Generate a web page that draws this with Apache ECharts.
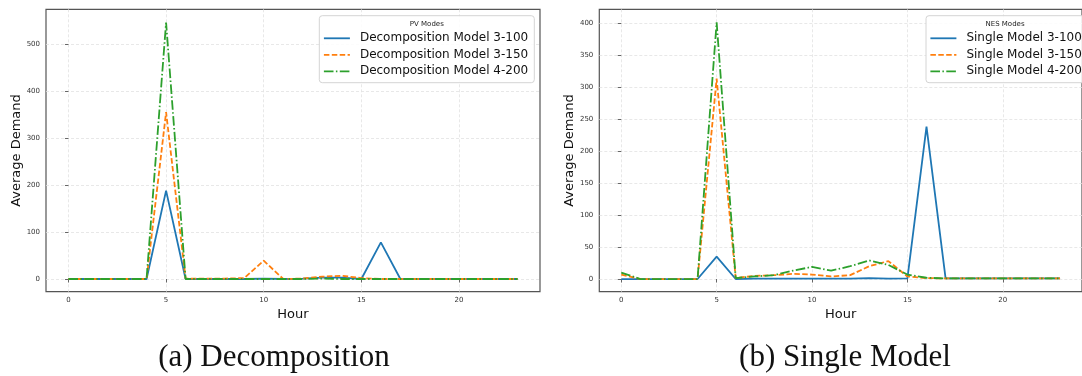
<!DOCTYPE html>
<html><head><meta charset="utf-8">
<script src="https://cdn.jsdelivr.net/npm/echarts@6/dist/echarts.min.js"></script>
<style>html,body{margin:0;padding:0;background:#fff}#c{width:1082px;height:376px}</style>
</head><body><div id="c"></div>
<script>
// ---- data ----
const hours = [0,1,2,3,4,5,6,7,8,9,10,11,12,13,14,15,16,17,18,19,20,21,22,23];
const xTickValues = [0,5,10,15,20];
const leftYTicks = [0,100,200,300,400,500];
const rightYTicks = [0,50,100,150,200,250,300,350,400];

const pvTitle = 'PV Modes';
const pvNames = ['Decomposition Model 3-100','Decomposition Model 3-150','Decomposition Model 4-200'];
const pv3_100 = [0,0,0,0,0,188,0,0,0,0,1,0,1,3,3,0,78,0,0,0,0,0,0,0];
const pv3_150 = [0,0,0,0,0,355,1,1,1,2,39,0,1,5,7,2,0,0,0,0,0,0,0,0];
const pv4_200 = [0,0,0,0,0,546,0,0,0,0,0,0,0,1,0,0,0,0,0,0,0,0,0,0];

const nesTitle = 'NES Modes';
const nesNames = ['Single Model 3-100','Single Model 3-150','Single Model 4-200'];
const nes3_100 = [0,0,0,0,0,35,0,0.5,0.5,0.5,0.5,0.5,0.5,1.5,0.5,1,238,1,1,1,1,1,1,1];
const nes3_150 = [7,0,0,0,0,313,1.5,5,6,8,7,4,6,20,28,4,1.5,1,1,1,1,1,1,1];
const nes4_200 = [10,0,0,0,0,401,1.5,4,6,13,19,13,20,29,22,7,2,1,1,1,1,1,1,1];

const xName = 'Hour';
const yName = 'Average Demand';
const captions = ['(a) Decomposition','(b) Single Model'];

// ---- styles ----
const FONT = 'DejaVu Sans';
const colors = ['#1f77b4','#ff7f0e','#2ca02c'];
const dashes = ['solid',[5.5,2.4],[9.6,2.4,1.5,2.4]];

function pairs(arr){ return hours.map((h,i)=>[h,arr[i]]); }

const grids = [
  {left:46, top:9.3, width:494, height:282.4},
  {left:599.3, top:9.3, width:493, height:282.4}
];

function xAxis(gi){
  return {
    type:'value', gridIndex:gi, min:-1.15, max:24.15,
    name:xName, nameLocation:'middle', nameGap:16,
    nameTextStyle:{fontFamily:FONT,fontSize:13,color:'#111'},
    axisLine:{show:false},
    axisTick:{show:true,length:3.5,lineStyle:{color:'#444',width:0.8},customValues:xTickValues},
    axisLabel:{fontFamily:FONT,fontSize:7,color:'#333',margin:5,customValues:xTickValues},
    splitLine:{show:true,lineStyle:{color:'#e2e2e2',width:0.8,type:[3,2]}}
  };
}
function yAxis(gi,min,max,ticks,split){
  return {
    type:'value', gridIndex:gi, min:min, max:max, splitNumber:split,
    name:yName, nameLocation:'middle', nameGap:23, nameRotate:90,
    nameTextStyle:{fontFamily:FONT,fontSize:13,color:'#111'},
    axisLine:{show:false},
    axisTick:{show:true,length:3.5,lineStyle:{color:'#444',width:0.8},customValues:ticks},
    axisLabel:{fontFamily:FONT,fontSize:7,color:'#333',margin:6,customValues:ticks},
    splitLine:{show:true,lineStyle:{color:'#e2e2e2',width:0.8,type:[3,2]}}
  };
}

function mkSeries(names, datas, gi){
  return names.map((n,i)=>({
    type:'line', name:n, xAxisIndex:gi, yAxisIndex:gi,
    data:pairs(datas[i]), symbol:'none', smooth:false,
    lineStyle:{color:colors[i],width:1.8,type:dashes[i]},
    itemStyle:{color:colors[i]},
    z:2+i
  }));
}

function legend(names,left){
  return {
    data:names, orient:'vertical', left:left, top:31.3, padding:0,
    itemWidth:26, itemHeight:10, itemGap:2.5,
    itemStyle:{color:'transparent',borderWidth:0,opacity:0},
    lineStyle:{width:1.8},
    textStyle:{fontFamily:FONT,fontSize:12,color:'#111',lineHeight:14,padding:[0,0,0,5]},
    z:20
  };
}

const chart = echarts.init(document.getElementById('c'),null,{renderer:'canvas'});
chart.setOption({
  animation:false,
  backgroundColor:'#fff',
  grid:grids.map(g=>Object.assign({show:true,borderColor:'#555',borderWidth:1.2,backgroundColor:'transparent',containLabel:false},g)),
  xAxis:[xAxis(0),xAxis(1)],
  yAxis:[yAxis(0,-27,574,leftYTicks,5),yAxis(1,-19.8,421.4,rightYTicks,9)],
  legend:[legend(pvNames,323),legend(nesNames,929.5)],
  series:[].concat(mkSeries(pvNames,[pv3_100,pv3_150,pv4_200],0),
                   mkSeries(nesNames,[nes3_100,nes3_150,nes4_200],1)),
  graphic:[
    {type:'rect',z:15,shape:{x:319.3,y:15.7,width:215,height:67,r:3},
     style:{fill:'rgba(255,255,255,0.85)',stroke:'#d4d4d4',lineWidth:1}},
    {type:'rect',z:15,shape:{x:926,y:15.7,width:200,height:67,r:3},
     style:{fill:'rgba(255,255,255,0.85)',stroke:'#d4d4d4',lineWidth:1}},
    {type:'text',z:21,style:{x:426.8,y:24,text:pvTitle,textAlign:'center',textVerticalAlign:'middle',
      font:'7px "DejaVu Sans"',fill:'#222'}},
    {type:'text',z:21,style:{x:1005,y:24,text:nesTitle,textAlign:'center',textVerticalAlign:'middle',
      font:'7px "DejaVu Sans"',fill:'#222'}},
    {type:'text',z:21,style:{x:274,y:358,text:captions[0],textAlign:'center',textVerticalAlign:'middle',
      font:'31px "Liberation Serif"',fill:'#111'}},
    {type:'text',z:21,style:{x:845,y:358,text:captions[1],textAlign:'center',textVerticalAlign:'middle',
      font:'31px "Liberation Serif"',fill:'#111'}}
  ]
});
</script>
</body></html>
